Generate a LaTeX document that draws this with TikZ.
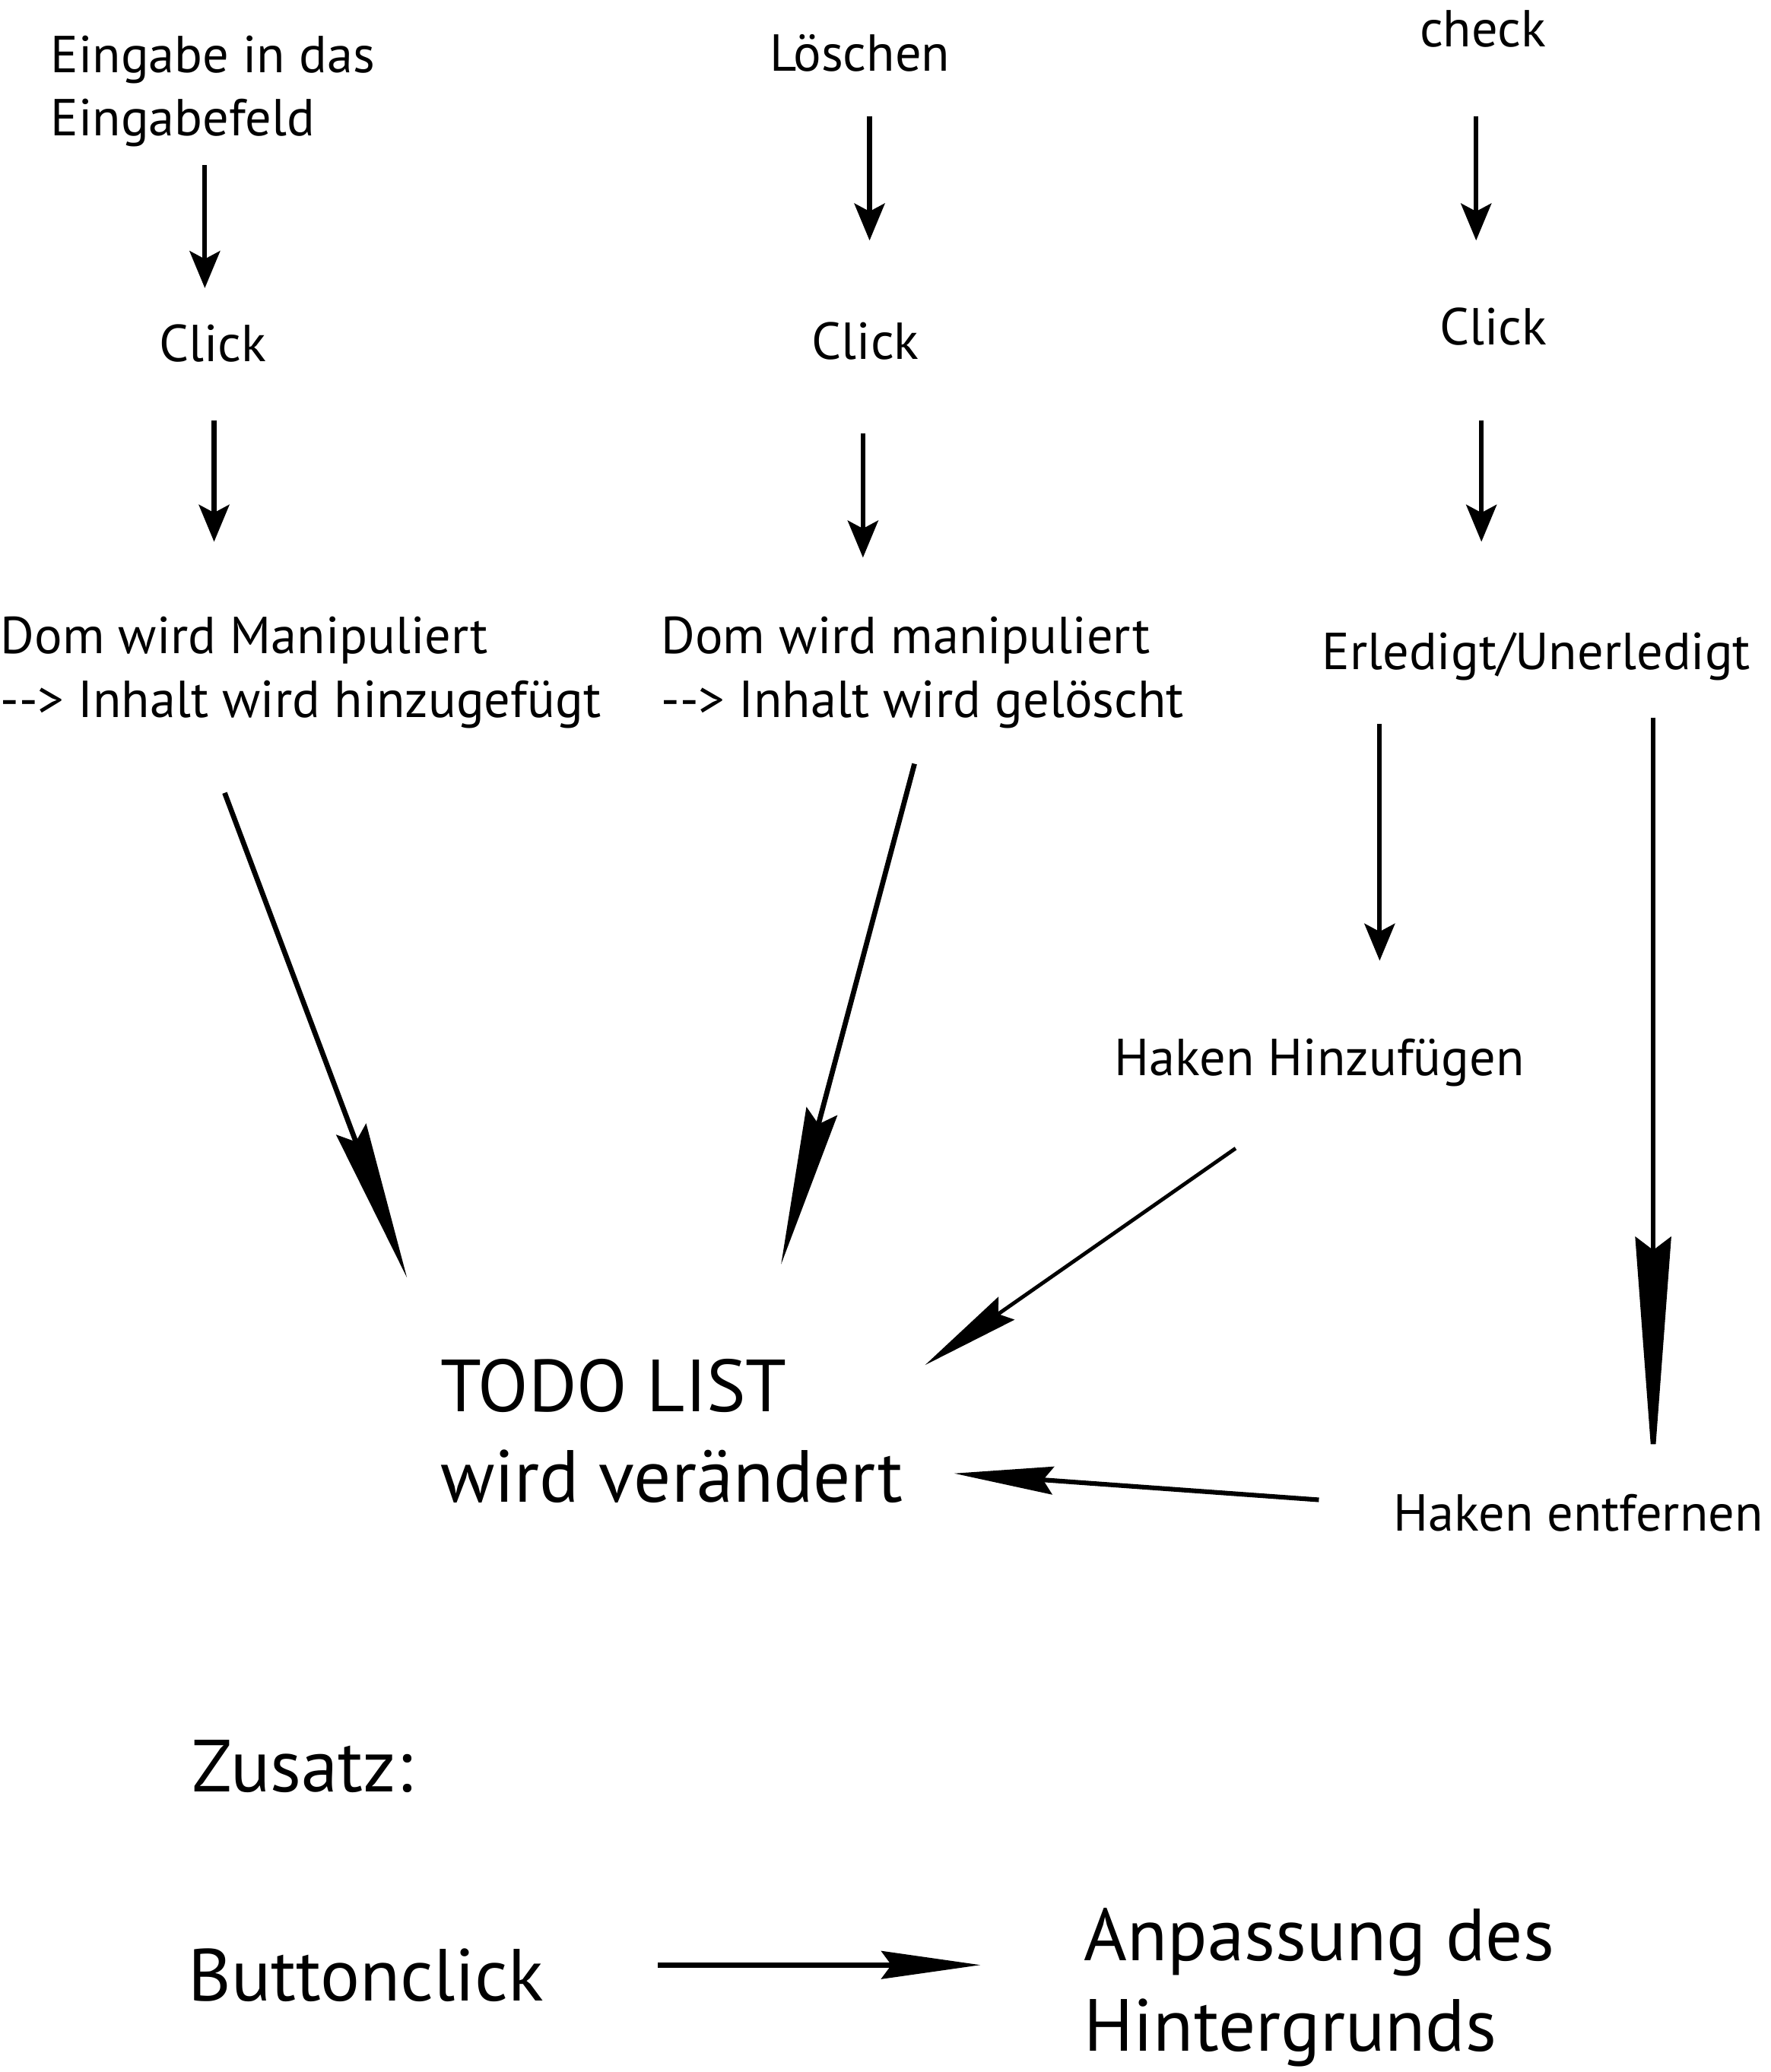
\documentclass[tikz,border=0pt]{standalone}
\usepackage{fontspec}
\setmainfont{PT Sans}
\usetikzlibrary{arrows.meta,calc}

\tikzset{
  lbl/.style={inner sep=0pt, anchor=west, align=left, font=\fontsize{22.4}{27.3}\selectfont},
  biglbl/.style={lbl, font=\fontsize{31.8}{39}\selectfont},
  flow/.style={line width=2pt, -{Stealth[length=0.56cm,width=0.46cm,inset=0.12cm]}},
  spear/.style={line width=2.2pt, -{Stealth[length=2.4cm,width=0.48cm,inset=0.2cm]}},
  longspear/.style={line width=2.2pt, -{Stealth[length=3.66cm,width=0.54cm,inset=0.2cm]}},
  dart/.style={line width=#1, -{Stealth[length=1.5cm,width=0.42cm,inset=0.15cm]}},
  dart/.default=1.6pt
}

\begin{document}
\begin{tikzpicture}[x=0.02cm, y=-0.02cm]
\useasboundingbox (0,0) rectangle (1340,1568);

% first column: adding
\node[lbl] (eing) at (38,69) {Eingabe in das\\Eingabefeld};
\node[lbl] (click1) at (120,260) {Click};
\node[lbl] (dom1) at (0,509) {Dom wird Manipuliert\\{-}{-}> Inhalt wird hinzugefügt};

% second column: deleting
\node[lbl] (loesch) at (582,40) {Löschen};
\node[lbl] (click2) at (614,258) {Click};
\node[lbl] (dom2) at (500,509) {Dom wird manipuliert\\{-}{-}> Inhalt wird gelöscht};

% third column: checking
\node[lbl] (check) at (1074,22) {check};
\node[lbl] (click3) at (1089,247) {Click};
\node[lbl] (erl) at (1000,497) {Erledigt/Unerledigt};
\node[lbl] (hakenhin) at (843,804) {Haken Hinzufügen};
\node[lbl] (hakenent) at (1054,1145) {Haken entfernen};

\node[biglbl] (todo) at (333,1083) {TODO LIST\\wird verändert};

% extra
\node[biglbl] (zusatz) at (145,1337) {Zusatz:};
\node[biglbl] (button) at (142,1495) {Buttonclick};
\node[biglbl] (anpass) at (820,1504) {Anpassung des\\Hintergrunds};

\draw[flow] ($(eing.west)+(117,56)$) -- ($(click1.west)+(35,-42)$);
\draw[flow] ($(click1.west)+(42,58)$) -- ($(dom1.west)+(162,-99)$);
\draw[flow] ($(loesch.west)+(76,48)$) -- ($(click2.west)+(44,-76)$);
\draw[flow] ($(click2.west)+(39,70)$) -- ($(dom2.west)+(153,-87)$);
\draw[flow] ($(check.west)+(43,66)$) -- ($(click3.west)+(28,-65)$);
\draw[flow] ($(click3.west)+(32,71)$) -- ($(erl.west)+(121,-87)$);
\draw[flow] ($(erl.west)+(44,51)$) -- ($(hakenhin.west)+(201,-77)$);
\draw[longspear] ($(erl.west)+(251,46)$) -- ($(hakenent.west)+(197,-26)$);

\draw[spear] ($(dom1.west)+(170,91)$) -- ($(todo.west)+(-25,-116)$);
\draw[spear] ($(dom2.west)+(192,69)$) -- ($(todo.west)+(258,-126)$);
\draw[dart] ($(hakenhin.west)+(92,65)$) -- ($(todo.west)+(367,-50)$);
\draw[dart=2pt] ($(hakenent.west)+(-56,-10)$) -- ($(todo.west)+(389,32)$);
\draw[dart=2.3pt] ($(button.west)+(356,-8)$) -- ($(anpass.west)+(-78,-17)$);
\end{tikzpicture}
\end{document}
